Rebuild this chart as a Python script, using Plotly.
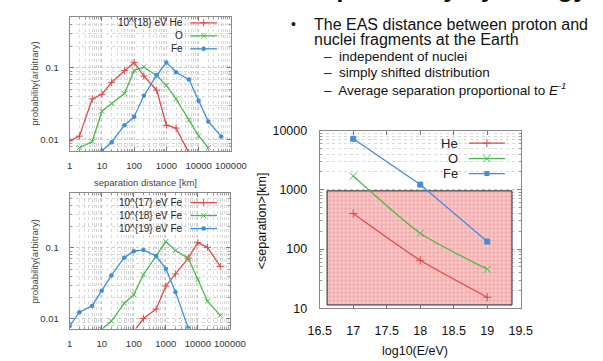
import numpy as np
import plotly.graph_objects as go

W, H = 603, 361

# ---------------- data ----------------
# top-left: 10^18 eV, He / O / Fe
he18_x = [1, 2, 5, 10, 20, 50, 100, 200, 500, 1000, 2000, 5000]
he18_y = [0.0097, 0.0113, 0.037, 0.043, 0.063, 0.092, 0.119, 0.077, 0.049, 0.016, 0.0146, 0.0066]
o18_x = [2, 5, 10, 20, 50, 100, 200, 500, 1000, 2000, 5000, 10000, 20000]
o18_y = [0.0078, 0.0095, 0.025, 0.032, 0.044, 0.092, 0.103, 0.078, 0.057, 0.037, 0.019, 0.0114, 0.0078]
fe18_x = [10, 20, 50, 100, 200, 500, 1000, 2000, 5000, 10000, 20000, 50000]
fe18_y = [0.0071, 0.0093, 0.016, 0.021, 0.041, 0.079, 0.119, 0.087, 0.069, 0.035, 0.018, 0.0112]

# bottom-left: Fe at 10^17, 10^18, 10^19 eV
fe_e17_x = [100, 200, 500, 1000, 2000, 5000, 10000, 20000, 50000]
fe_e17_y = [0.0066, 0.0101, 0.0137, 0.029, 0.043, 0.072, 0.119, 0.102, 0.055]
fe_e18_x = [10, 20, 50, 100, 200, 500, 1000, 2000, 5000, 10000, 20000, 50000]
fe_e18_y = [0.0071, 0.0093, 0.0165, 0.022, 0.042, 0.077, 0.123, 0.092, 0.072, 0.036, 0.0177, 0.0112]
fe_e19_x = [1, 2, 5, 10, 20, 50, 100, 200, 500, 1000, 2000, 5000]
fe_e19_y = [0.0079, 0.0124, 0.0152, 0.025, 0.041, 0.073, 0.090, 0.094, 0.077, 0.051, 0.024, 0.0074]

# right: mean separation vs log10(E/eV)
log_e = [17, 18, 19]
sep_he = [397, 64.6, 15.4]
sep_o = [1707, 185, 45.7]
sep_fe = [7250, 1224, 134]
shade_x = [16.61, 19.37]
shade_y = [11.4, 960]

dist_ticks = [1, 10, 100, 1000, 10000, 100000]
dist_labels = ["1", "10", "100", "1000", "10000", "100000"]
prob_ticks = [0.01, 0.1]
prob_labels = ["0.01", "0.1"]
sep_ticks = [10, 100, 1000, 10000]
sep_labels = ["10", "100", "1000", "10000"]

# ---------------- style ----------------
RED, GREEN, BLUE = "#e24a4a", "#4cb84c", "#3f8fe0"
FONT = "Liberation Sans, Arial, sans-serif"


def px(x):
    return x / W


def py(y):
    return 1 - y / H


def minor_vals(lo_exp, hi_exp):
    return [m * 10.0 ** e for e in range(lo_exp, hi_exp) for m in range(2, 10)]


fig = go.Figure()

# plot boxes (pixel coordinates of frames)
TL = (60.5, 229.5, 10, 150)
BL = (60.5, 228.5, 193, 334.5)
RT = (322.7, 533.5, 128.5, 313.5)


def log_axis_common(ticks, labels, minors, rng, size, color, standoff):
    return dict(type="log", range=rng, tickmode="array", tickvals=ticks, ticktext=labels,
                ticks="inside", ticklen=4, tickcolor="#777", showline=True, linecolor="#8a8a8a",
                linewidth=1, mirror="ticks", showgrid=True, gridcolor="#c8c8c8", griddash="dot",
                gridwidth=1, zeroline=False, ticklabelstandoff=standoff,
                tickfont=dict(family=FONT, size=size, color=color),
                minor=dict(tickmode="array", tickvals=minors, ticks="inside", ticklen=2,
                           tickcolor="#999", showgrid=True, gridcolor="#d8d8d8", griddash="dot",
                           gridwidth=1))


layout_axes = {}
layout_axes["xaxis"] = dict(domain=[px(TL[0]), px(TL[1])], anchor="y",
                            **log_axis_common(dist_ticks, dist_labels, minor_vals(0, 5), [0, 5], 9.5, "#333", 5))
layout_axes["yaxis"] = dict(domain=[py(TL[3]), py(TL[2])], anchor="x",
                            **log_axis_common(prob_ticks, prob_labels, minor_vals(-3, 0), [-2.156, -0.289], 9.5, "#333", 8))
layout_axes["xaxis2"] = dict(domain=[px(BL[0]), px(BL[1])], anchor="y2",
                             **log_axis_common(dist_ticks, dist_labels, minor_vals(0, 5), [0, 5], 9.5, "#333", 6))
layout_axes["yaxis2"] = dict(domain=[py(BL[3]), py(BL[2])], anchor="x2",
                             **log_axis_common(prob_ticks, prob_labels, minor_vals(-3, 0), [-2.137, -0.217], 9.5, "#333", 8))
layout_axes["xaxis3"] = dict(domain=[px(RT[0]), px(RT[1])], anchor="y3", range=[16.5, 19.5],
                             tickmode="array", tickvals=[16.5, 17, 17.5, 18, 18.5, 19, 19.5],
                             ticktext=["16.5", "17", "17.5", "18", "18.5", "19", "19.5"],
                             ticks="inside", ticklen=4, tickcolor="#777", showline=True,
                             linecolor="#8a8a8a", mirror="ticks", showgrid=False, zeroline=False,
                             ticklabelstandoff=11, tickfont=dict(family=FONT, size=12.5, color="#111"))
y3 = log_axis_common(sep_ticks, sep_labels, minor_vals(1, 4), [1, 4], 12.5, "#111", 9)
layout_axes["yaxis3"] = dict(domain=[py(RT[3]), py(RT[2])], anchor="x3", **y3)
layout_axes["yaxis3"]["gridcolor"] = "#c0c0c0"

# overlay axis in pixel units for legend samples
layout_axes["xaxis4"] = dict(domain=[0, 1], range=[0, W], visible=False, fixedrange=True, anchor="y4")
layout_axes["yaxis4"] = dict(domain=[0, 1], range=[H, 0], visible=False, fixedrange=True, anchor="x4")


def line_trace(x, y, color, symbol, size, xa, ya, shape="linear", msize_line=1):
    return go.Scatter(x=x, y=y, xaxis=xa, yaxis=ya, mode="lines+markers", showlegend=False,
                      hoverinfo="skip", line=dict(color=color, width=1.3, shape=shape, smoothing=0.6),
                      marker=dict(symbol=symbol, size=size, color=color,
                                  line=dict(color=color, width=msize_line)))


# top-left
fig.add_trace(line_trace(he18_x, he18_y, RED, "cross-thin", 5, "x", "y"))
fig.add_trace(line_trace(o18_x, o18_y, GREEN, "x-thin", 5, "x", "y"))
fig.add_trace(line_trace(fe18_x, fe18_y, BLUE, "circle", 4.5, "x", "y", msize_line=0))
# bottom-left
fig.add_trace(line_trace(fe_e17_x, fe_e17_y, RED, "cross-thin", 5, "x2", "y2"))
fig.add_trace(line_trace(fe_e18_x, fe_e18_y, GREEN, "x-thin", 5, "x2", "y2"))
fig.add_trace(line_trace(fe_e19_x, fe_e19_y, BLUE, "circle", 4.5, "x2", "y2", msize_line=0))

# right: shaded region
fig.add_trace(go.Scatter(x=[shade_x[0], shade_x[1], shade_x[1], shade_x[0], shade_x[0]],
                         y=[shade_y[0], shade_y[0], shade_y[1], shade_y[1], shade_y[0]],
                         xaxis="x3", yaxis="y3", mode="lines", fill="toself", showlegend=False,
                         hoverinfo="skip", line=dict(color="#222", width=1),
                         fillcolor="#fbd3d3",
                         fillpattern=dict(shape="+", size=4, solidity=0.3, fgcolor="#ee7f7f",
                                          bgcolor="#fbcfcf", fgopacity=0.9)))
fig.add_trace(line_trace(log_e, sep_he, RED, "cross-thin", 6, "x3", "y3", shape="spline"))
fig.add_trace(line_trace(log_e, sep_o, GREEN, "x-thin", 7, "x3", "y3", shape="spline"))
fig.add_trace(line_trace(log_e, sep_fe, BLUE, "square", 5, "x3", "y3"))

annotations = []


def legend_entry(label, ypix, x_text_right, x0, x1, color, symbol, size, fsize, mline=1):
    fig.add_trace(go.Scatter(x=[x0, x1], y=[ypix, ypix], xaxis="x4", yaxis="y4", mode="lines",
                             line=dict(color=color, width=1.3), showlegend=False, hoverinfo="skip"))
    fig.add_trace(go.Scatter(x=[(x0 + x1) / 2], y=[ypix], xaxis="x4", yaxis="y4", mode="markers",
                             marker=dict(symbol=symbol, size=size, color=color,
                                         line=dict(color=color, width=mline)),
                             showlegend=False, hoverinfo="skip"))
    annotations.append(dict(x=px(x_text_right), y=py(ypix), xref="paper", yref="paper",
                            text=label, showarrow=False, xanchor="right", yanchor="middle",
                            font=dict(family=FONT, size=fsize, color="#222")))


legend_entry("10^{18} eV He", 16.5, 181, 187, 215, RED, "cross-thin", 5, 10)
legend_entry("O", 30, 181, 187, 215, GREEN, "x-thin", 5, 10)
legend_entry("Fe", 43.5, 181, 187, 215, BLUE, "circle", 4.5, 10, 0)

legend_entry("10^{17} eV Fe", 203.5, 181, 187, 215, RED, "cross-thin", 5, 10)
legend_entry("10^{18} eV Fe", 217, 181, 187, 215, GREEN, "x-thin", 5, 10)
legend_entry("10^{19} eV Fe", 230.5, 181, 187, 215, BLUE, "circle", 4.5, 10, 0)

legend_entry("He", 141.7, 469.5, 479, 517, RED, "cross-thin", 6, 13)
legend_entry("O", 157.7, 469.5, 479, 517, GREEN, "x-thin", 7, 13)
legend_entry("Fe", 173.3, 469.5, 479, 517, BLUE, "square", 5, 13, 0)

# axis titles
annotations += [
    dict(x=px(24), y=py(80), text="probability(arbitrary)", textangle=-90,
         font=dict(family=FONT, size=9.5, color="#444")),
    dict(x=px(24), y=py(265), text="probability(arbitrary)", textangle=-90,
         font=dict(family=FONT, size=9.5, color="#444")),
    dict(x=px(140), y=py(183), text="separation distance [km]",
         font=dict(family=FONT, size=9.5, color="#444")),
    dict(x=px(263), y=py(222), text="&lt;separation&gt;[km]", textangle=-90,
         font=dict(family=FONT, size=12.5, color="#111")),
    dict(x=px(423), y=py(357.5), text="log10(E/eV)",
         font=dict(family=FONT, size=12.5, color="#111")),
]

# slide text
TXT = dict(family=FONT, color="#111")
annotations += [
    dict(x=px(606), y=py(-20), text="<b>Dependency by energy</b>", xanchor="right",
         font=dict(family=FONT, size=26, color="#111")),
    dict(x=px(290), y=py(18), text="•", xanchor="left", font=dict(size=14, **TXT)),
    dict(x=px(315), y=py(18), text="The EAS distance between proton and", xanchor="left",
         font=dict(size=16, **TXT)),
    dict(x=px(315), y=py(33.5), text="nuclei fragments at the Earth", xanchor="left",
         font=dict(size=16, **TXT)),
    dict(x=px(325), y=py(51), text="–  independent of nuclei", xanchor="left",
         font=dict(size=13.5, **TXT)),
    dict(x=px(325), y=py(68), text="–  simply shifted distribution", xanchor="left",
         font=dict(size=13.5, **TXT)),
    dict(x=px(325), y=py(85.5), text="–  Average separation proportional to <i>E<sup>-1</sup></i>",
         xanchor="left", font=dict(size=13.5, **TXT)),
]
for a in annotations:
    a.setdefault("xref", "paper")
    a.setdefault("yref", "paper")
    a.setdefault("showarrow", False)
    a.setdefault("xanchor", "center")
    a.setdefault("yanchor", "middle")

fig.update_layout(width=W, height=H, margin=dict(l=0, r=0, t=0, b=0, pad=0),
                  paper_bgcolor="white", plot_bgcolor="rgba(0,0,0,0)",
                  annotations=annotations, showlegend=False, **layout_axes)

fig.write_html("out.html")
